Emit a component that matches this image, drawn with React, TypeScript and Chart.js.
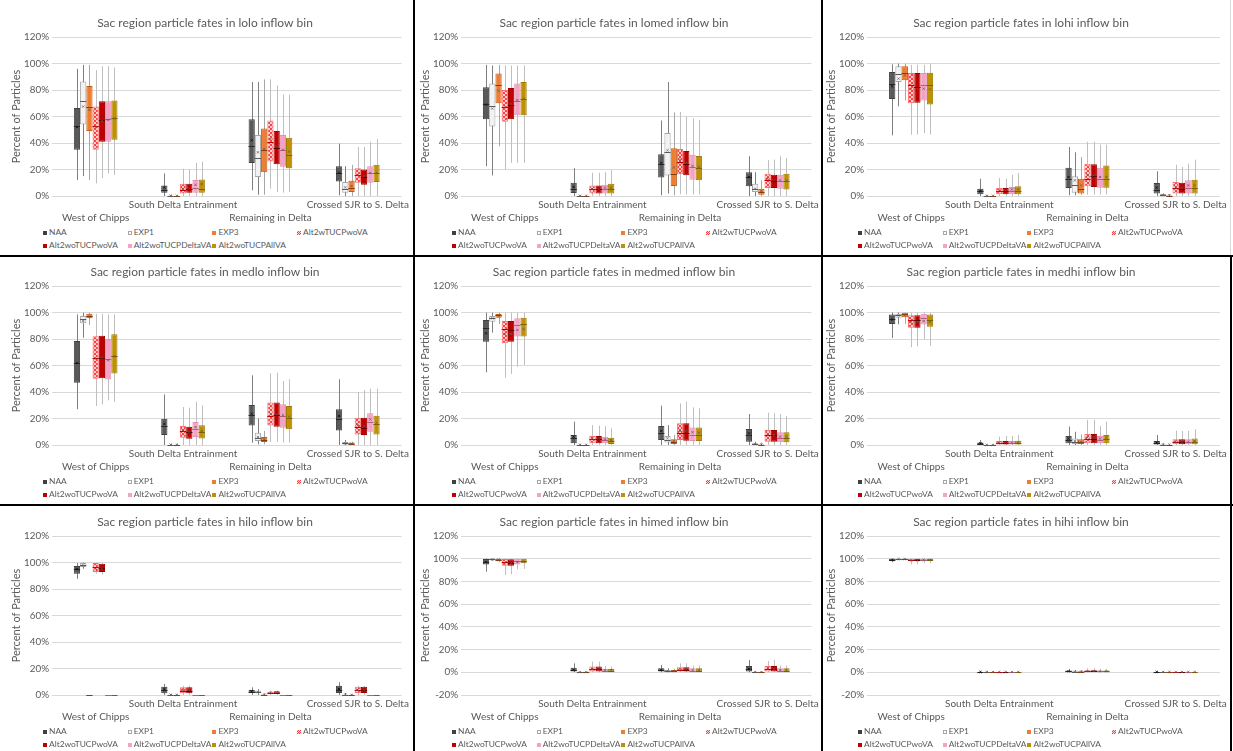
import React, { useEffect, useRef } from 'react';
import { Chart, registerables } from 'chart.js';
Chart.register(...registerables);

const FONT = 'Lato, "Open Sans", "DejaVu Sans", sans-serif';
const TEXT = '#595959';

const SERIES = ['NAA', 'EXP1', 'EXP3', 'Alt2wTUCPwoVA', 'Alt2woTUCPwoVA', 'Alt2woTUCPDeltaVA', 'Alt2woTUCPAllVA'];
const CATEGORIES = [['', 'West of Chipps'], ['South Delta Entrainment'], ['', 'Remaining in Delta'], ['Crossed SJR to S. Delta']];
const Y_TICK_STEP = 20;
const Y_MAX = 120;

// each box: [min, q1, median, q3, max, mean] ; per category -> per series
const LOLO = [
  [[12, 35, 53, 66.5, 96, 52], [15, 54, 72, 86.5, 99, 67.5], [12, 49, 67, 83, 99, 65], [9.5, 35, 52.5, 67.5, 95, 52], [13.5, 41, 57, 71.5, 98, 56.5], [17, 41, 58, 71.5, 98, 57.5], [16, 42.5, 59, 72, 97, 58.5]],
  [[0, 2.5, 4.8, 8, 17, 6.5], [0, 0, 0.2, 0.5, 1, 0.3], [0, 0, 0.2, 0.3, 0.8, 0.2], [0, 1.8, 4.3, 9.3, 20.5, 5.5], [0, 2.5, 5.3, 9.3, 20, 5.5], [0, 2.5, 6, 12, 25, 8.5], [0, 2.5, 5.5, 12.5, 26, 9]],
  [[4.3, 25, 38, 58, 86, 42], [1, 14.3, 29, 46, 86, 33], [1, 18, 35, 51, 88, 35.5], [5.5, 26, 41, 57, 88, 43], [3, 24, 36.5, 49, 83.5, 37.5], [2.5, 22, 35, 46, 76.5, 35], [3, 21, 31, 44, 76.5, 33.5]],
  [[0.5, 11, 17, 22.5, 39.5, 17.5], [0, 2.5, 5, 10.5, 22.5, 6.5], [0, 3, 6, 11.5, 23.5, 7.5], [0, 10, 16, 21, 37, 16], [0, 8.5, 14.5, 20, 37, 15], [0, 10, 17, 22.5, 41, 17.5], [0, 10.5, 17.5, 23.5, 43, 17.5]],
];
const LOMED = [
  [[22.5, 58, 69.5, 82, 99, 69], [15.5, 52.5, 68, 85, 98.5, 66], [37.5, 70, 83.5, 92.5, 99, 79.5], [20, 56, 67.5, 80, 98.5, 67], [25, 58, 68.5, 81.5, 98.5, 69.5], [25, 61, 72, 85, 98.5, 72.5], [25, 61, 73.5, 86, 98.5, 73.5]],
  [[0, 2.3, 5.5, 10, 21, 6.8], [0, 0, 0.2, 0.4, 0.8, 0.2], [0, 0, 0.2, 0.4, 0.8, 0.2], [0, 1.8, 5, 8, 17.5, 5.5], [0, 1.8, 5.3, 8, 17.5, 5], [0, 1.8, 5.5, 8.5, 18, 6.3], [0, 1.8, 5.5, 9.3, 19.5, 6.3]],
  [[0.5, 14, 24.5, 31.5, 57, 25], [1.8, 15.5, 33, 47.5, 86, 34.5], [0.5, 7.5, 16.5, 36, 63, 21.5], [1.3, 16.4, 25.7, 35.5, 63.4, 27.4], [1, 15.6, 24.4, 34, 60, 25], [1, 12.3, 22, 31.2, 58.5, 22.6], [1, 11.8, 21.4, 30.2, 57.5, 22]],
  [[0, 7.3, 14.3, 18, 30, 14.3], [0, 3, 5.5, 9.3, 18, 5.5], [0, 1, 3, 5.5, 11.8, 3.8], [0, 6, 11.8, 16.8, 27, 13], [0, 6, 11, 16, 27.4, 11.8], [0, 5.5, 11, 16, 30, 11.8], [0, 5, 11, 16.8, 28.7, 11.8]],
];
const LOHI = [
  [[45.8, 73.2, 84.8, 93.6, 99.4, 82.8], [67.7, 86, 92.3, 97.9, 99.9, 88.6], [72, 87.3, 92.8, 98, 99.9, 91], [46.3, 70, 83.5, 92.8, 99, 81], [46.3, 70.4, 82.3, 92.8, 99, 81], [47.5, 72, 83.5, 92.8, 99, 81], [46.3, 69, 83.5, 93, 99.9, 80.5]],
  [[0, 1.3, 3.8, 5.5, 13, 3.8], [0, 0, 0.1, 0.3, 0.6, 0.2], [0, 0, 0.1, 0.3, 0.6, 0.2], [0, 1.3, 3.8, 6, 13.6, 4.3], [0, 1.3, 3.8, 6, 13, 4.3], [0, 1.3, 3.8, 6.8, 16, 5], [0, 1.3, 3.8, 7.3, 17.4, 5]],
  [[0.5, 6, 13, 21.4, 37, 14.3], [0.5, 2.5, 8.5, 15, 33, 11.8], [1, 1.8, 5.5, 13, 29.4, 8], [1, 7.3, 13, 24.4, 41, 15.6], [1, 6.8, 14.8, 24, 41, 15.6], [1, 6.3, 13, 21.4, 38.7, 14.3], [1, 6.3, 13, 23, 38.7, 14.3]],
  [[0, 1.8, 4.8, 9.8, 18.6, 6.3], [0, 0, 0.5, 1.5, 2, 0.7], [0, 0, 0.3, 1, 1.5, 0.5], [0, 1.8, 6, 10.6, 23.6, 6.3], [0, 1.8, 5.5, 10, 21.9, 6.3], [0, 1.8, 6, 11.8, 24.4, 8], [0, 1.8, 6, 12.3, 27.4, 8]],
];
const MEDLO = [
  [[27, 47, 62, 78.5, 98.6, 62], [81, 91.8, 95.4, 97.4, 99.9, 93.6], [90.6, 95.6, 97.4, 99, 99.9, 96.9], [29.4, 50, 66, 82, 99, 65], [30.7, 50.3, 66, 82.5, 99, 66], [33.7, 49.5, 65, 80, 98.6, 64], [32.7, 54, 67.5, 83.5, 98.6, 67]],
  [[0, 7.5, 14.3, 19.9, 38.2, 16], [0, 0, 0.2, 0.5, 1, 0.3], [0, 0, 0.2, 0.5, 1, 0.3], [0, 5.5, 10.6, 14.3, 28.7, 11], [0, 4.8, 10, 13.8, 28.2, 10], [0, 6, 11.8, 17.4, 32.7, 13.6], [0, 5, 10, 15, 30, 10.6]],
  [[1.8, 14.8, 23, 30.2, 52.6, 23.6], [0.5, 3, 5.5, 9.3, 20, 6], [0.5, 2.3, 3.5, 6, 10.6, 4.3], [2.3, 14.8, 21.9, 32, 54, 23], [2.3, 13.8, 22.6, 32, 54.6, 23], [1.8, 13, 21.9, 30.7, 48.3, 22.4], [1.8, 11.8, 20.6, 29.4, 49.6, 21.4]],
  [[0, 11, 20, 27, 49.6, 21.9], [0, 0, 1.3, 2.3, 3.8, 1.2], [0, 0, 0.8, 1.8, 2.5, 0.9], [0, 8, 13.6, 20.6, 40, 14.8], [0, 7.5, 13, 20.6, 41.5, 14.3], [0, 10, 17.4, 24, 42.5, 19.4], [0, 8, 15.6, 22, 42.5, 16.9]],
];
const MEDMED = [
  [[54.8, 78, 88, 94.3, 99.9, 84.3], [84.8, 93, 95.6, 97.4, 99.9, 95.6], [91.3, 96, 97.9, 98.9, 99.9, 97.4], [50.8, 76.7, 87.3, 93.6, 99.9, 83.8], [53.6, 78, 86.8, 93.6, 99.9, 83.8], [59, 81.8, 90.6, 95.6, 99.9, 86.8], [60.4, 81.8, 91.3, 96, 99.9, 87.3]],
  [[0, 1.3, 5, 7.5, 17.6, 6.3], [0, 0, 0.2, 0.4, 0.8, 0.2], [0, 0, 0.2, 0.4, 0.8, 0.2], [0, 1.3, 4.3, 6.8, 15, 4.8], [0, 1.3, 4.3, 6.8, 14.6, 4.8], [0, 1.3, 3.8, 6.3, 14.3, 4.3], [0, 0.8, 3.3, 5.5, 12.6, 3.8]],
  [[0, 3.8, 8.8, 14.3, 29.7, 10.6], [0, 1.8, 3.8, 6.8, 15, 5], [0, 0.8, 2.5, 4.3, 7.5, 3], [0, 3.8, 8.8, 16.4, 31.4, 10.6], [0, 3.3, 9.3, 16.4, 32.7, 10.8], [0, 3, 7.5, 13.3, 28.4, 9.6], [0, 3, 7.5, 13.3, 27.7, 9.3]],
  [[0, 2.5, 7.5, 12, 23.4, 8.8], [0, 0, 0.5, 1.3, 2.5, 0.7], [0, 0, 0.3, 0.8, 1.8, 0.4], [0, 2.5, 7.3, 11.3, 24.4, 7.5], [0, 2.5, 7.3, 11.3, 23.9, 7.5], [0, 2, 5.5, 9.6, 23.2, 6.3], [0, 2, 5.5, 9.6, 22, 6.3]],
];
const MEDHI = [
  [[80.8, 91.4, 95.2, 98.5, 100, 94.7], [91, 96, 97.8, 99, 100, 97.8], [91.4, 96.5, 98.5, 99.8, 100, 98], [73.8, 88.4, 94.7, 98, 100, 93], [74.5, 88.4, 94.2, 98, 100, 93], [79.6, 91, 95.5, 99, 100, 93.5], [75, 89.2, 94.7, 98.5, 100, 93]],
  [[0, 0, 0.8, 1.8, 3.8, 1.3], [0, 0, 0.1, 0.2, 0.4, 0.1], [0, 0, 0.1, 0.2, 0.4, 0.1], [0, 0, 1.3, 3, 6.3, 1.8], [0, 0, 1.3, 3, 6.8, 1.8], [0, 0, 1.3, 3, 6.8, 1.8], [0, 0, 1.3, 3.3, 7.6, 2]],
  [[0, 1.3, 3.8, 6.8, 13.9, 4.8], [0, 0.8, 2.5, 5, 10, 3], [0, 0.8, 2.3, 4.3, 8, 2.5], [0, 1.3, 4.8, 8.3, 19, 5.6], [0, 1.3, 4.8, 8.3, 19, 5.6], [0, 1.3, 3.8, 6.8, 14.4, 4.8], [0, 1.3, 4.3, 7.6, 17.7, 5.6]],
  [[0, 0, 1.3, 3, 7.6, 1.8], [0, 0, 0.3, 0.8, 1.2, 0.4], [0, 0, 0.2, 0.5, 0.8, 0.3], [0, 0.5, 2.3, 4.3, 10.9, 2.5], [0, 0.5, 2.3, 4.3, 10.6, 2.5], [0, 0.5, 2.3, 4.3, 10.6, 2.5], [0, 0.5, 2.5, 5, 11.9, 3]],
];
const HILO = [
  [[87.7, 91.5, 95.3, 97.3, 99.6, 95], [95.3, 96.6, 98, 99.6, 100, 97.8], [0, 0, 0, 0, 0, 0], [91.5, 92.8, 96.6, 99.6, 100, 95.3], [91, 92.8, 96.2, 99, 100, 95.3], [0, 0, 0, 0, 0, 0], [0, 0, 0, 0, 0, 0]],
  [[0, 1.3, 3.8, 6.3, 8.3, 4.5], [0, 0, 0.2, 0.5, 0.8, 0.3], [0, 0, 0, 0.2, 0.4, 0.1], [0, 1.3, 3.3, 5.8, 7, 3.8], [0, 1.3, 3.3, 5.8, 7, 3.8], [0, 0, 0, 0, 0, 0], [0, 0, 0, 0, 0, 0]],
  [[0, 1.5, 2.5, 3.8, 5.8, 2.8], [0, 1.3, 2.3, 3.3, 4.5, 2.3], [0, 0, 0.3, 0.8, 1.3, 0.4], [0, 1, 1.8, 2.5, 3.3, 1.8], [0, 1, 1.8, 2.8, 3.3, 1.8], [0, 0, 0, 0, 0, 0], [0, 0, 0, 0, 0, 0]],
  [[0, 1.5, 3.8, 7, 9.6, 4.5], [0, 0, 0.3, 0.8, 1.5, 0.4], [0, 0, 0.2, 0.4, 0.6, 0.2], [0, 1.5, 3.8, 6.3, 7, 4], [0, 1.5, 3.8, 6.3, 7, 4], [0, 0, 0, 0, 0, 0], [0, 0, 0, 0, 0, 0]],
];
const HIMED = [
  [[88.6, 95, 97.4, 99.8, 100, 97], [98.3, 98.6, 99.5, 100, 100, 99.3], [97, 98.5, 99.3, 100, 100, 99], [85.7, 93.9, 96.9, 99.8, 100, 96], [86.3, 93.9, 96.6, 99.5, 100, 96], [90.7, 95, 98.3, 100, 100, 97], [91, 96, 98.3, 100, 100, 97.4]],
  [[0, 0.6, 2, 4.1, 7.9, 2.2], [0, 0, 0.1, 0.3, 0.5, 0.1], [0, 0, 0.1, 0.3, 0.5, 0.1], [0, 0.6, 2.6, 5, 9.4, 2.8], [0, 0.6, 2.6, 5, 9.4, 2.8], [0, 0.6, 1.5, 3, 5.6, 1.8], [0, 0.6, 1.5, 3, 5, 1.8]],
  [[0, 0.6, 2, 3.5, 6.5, 2.1], [0, 0.3, 1, 2, 3.5, 1.1], [0, 0.3, 1, 2, 3, 1.1], [0, 0.6, 2, 4.4, 7.9, 2.6], [0, 0.6, 2, 4.4, 7.9, 2.6], [0, 0.6, 1.5, 3.5, 5.9, 2], [0, 0.6, 1.5, 3.5, 5.9, 2]],
  [[0, 0.6, 2.6, 5.6, 10.9, 3], [0, 0, 0.2, 0.5, 0.8, 0.2], [0, 0, 0.2, 0.5, 0.8, 0.2], [0, 0.6, 2.6, 5.6, 10, 3], [0, 0.6, 2.6, 5.6, 10.9, 3], [0, 0.6, 1.5, 3.5, 5.9, 2], [0, 0.6, 1.5, 3.5, 5.9, 2]],
];
const HIHI = [
  [[97, 98, 99, 100, 100, 99], [99, 99.5, 99.8, 100, 100, 99.7], [99, 99.5, 99.8, 100, 100, 99.7], [95, 98, 99, 100, 100, 98.6], [95, 98, 99, 100, 100, 98.6], [96, 98.5, 99.3, 100, 100, 99], [96, 98.5, 99.3, 100, 100, 99]],
  [[0, 0, 0.2, 0.5, 1, 0.3], [0, 0, 0.2, 0.5, 1, 0.3], [0, 0, 0.2, 0.5, 1, 0.3], [0, 0, 0.2, 0.5, 1, 0.3], [0, 0, 0.2, 0.5, 1, 0.3], [0, 0, 0.2, 0.5, 1, 0.3], [0, 0, 0.2, 0.5, 1, 0.3]],
  [[0, 0.3, 0.8, 1.5, 3, 0.9], [0, 0.2, 0.5, 1, 2, 0.6], [0, 0.2, 0.5, 1, 2, 0.6], [0, 0.3, 1, 1.8, 3.5, 1.1], [0, 0.3, 1, 1.8, 3.5, 1.1], [0, 0.3, 0.8, 1.5, 3, 0.9], [0, 0.3, 0.8, 1.5, 3, 0.9]],
  [[0, 0, 0.2, 0.5, 1, 0.3], [0, 0, 0.2, 0.5, 1, 0.3], [0, 0, 0.2, 0.5, 1, 0.3], [0, 0, 0.2, 0.5, 1, 0.3], [0, 0, 0.2, 0.5, 1, 0.3], [0, 0, 0.2, 0.5, 1, 0.3], [0, 0, 0.2, 0.5, 1, 0.3]],
];

const PANEL_TITLES = ['lolo', 'lomed', 'lohi', 'medlo', 'medmed', 'medhi', 'hilo', 'himed', 'hihi'];
const PANEL_STATS = [LOLO, LOMED, LOHI, MEDLO, MEDMED, MEDHI, HILO, HIMED, HIHI];
const PANEL_YMIN = [0, 0, 0, 0, 0, 0, 0, -20, -20];

// geometry
const COL_PLOT_LEFT = [52, 461, 867];
const COL_CANVAS_RIGHT = [411, 821, 1229];
const COL_PLOT_RIGHT = [410, 819, 1227];
const ROW_TOP = [0, 249, 499];
const AXIS_W = 52;
const CANVAS_H = 224;

const STYLES = [
  { fill: '#595959', border: '#404040', whisker: '#7f7f7f', median: '#262626' },
  { fill: '#f2f2f2', border: '#a6a6a6', whisker: '#7f7f7f', median: '#595959' },
  { fill: '#ed7d31', border: '#c55a11', whisker: '#a6a6a6', median: '#843c0c' },
  { fill: 'checker', border: '#ff6b6b', whisker: '#bfbfbf', median: '#c00000' },
  { fill: '#c00000', border: '#a00000', whisker: '#bfbfbf', median: '#600000' },
  { fill: '#f4a3c4', border: '#e58fb1', whisker: '#bfbfbf', median: '#b0607f' },
  { fill: '#bf9000', border: '#a27a00', whisker: '#bfbfbf', median: '#7f6000' },
];

const LEGEND_MARKS: React.CSSProperties[] = [
  { background: '#404040' },
  { background: '#fff', border: '1px solid #a6a6a6' },
  { background: '#ed7d31' },
  { background: 'repeating-conic-gradient(#ff4040 0 25%, #ffd0d0 0 50%) 0 0 / 2px 2px' },
  { background: '#c00000' },
  { background: '#f4a3c4' },
  { background: '#bf9000' },
];

function checkerPattern(ctx: CanvasRenderingContext2D) {
  const c = document.createElement('canvas');
  c.width = 4; c.height = 4;
  const g = c.getContext('2d')!;
  g.fillStyle = '#ff4040'; g.fillRect(0, 0, 4, 4);
  g.fillStyle = '#ffcccc'; g.fillRect(0, 0, 2, 2); g.fillRect(2, 2, 2, 2);
  return ctx.createPattern(c, 'repeat');
}

const boxPlugin = {
  id: 'boxWhisker',
  beforeDatasetsDraw(chart: any) {
    const { ctx } = chart; const ys = chart.scales.y;
    ctx.save();
    ctx.lineWidth = 1;
    chart.data.datasets.forEach((ds: any, i: number) => {
      const meta = chart.getDatasetMeta(i);
      ctx.strokeStyle = STYLES[i].whisker;
      meta.data.forEach((bar: any, j: number) => {
        const st = ds.stats[j];
        if (st[4] <= st[0]) return;
        const x = Math.round(bar.x) + 0.5;
        ctx.beginPath();
        ctx.moveTo(x, ys.getPixelForValue(st[0]));
        ctx.lineTo(x, ys.getPixelForValue(st[4]));
        ctx.stroke();
      });
    });
    ctx.restore();
  },
  afterDatasetsDraw(chart: any) {
    const { ctx } = chart; const ys = chart.scales.y;
    ctx.save();
    ctx.lineWidth = 1;
    chart.data.datasets.forEach((ds: any, i: number) => {
      const meta = chart.getDatasetMeta(i);
      meta.data.forEach((bar: any, j: number) => {
        const st = ds.stats[j];
        const half = bar.width / 2;
        const ym = Math.round(ys.getPixelForValue(st[2])) + 0.5;
        ctx.strokeStyle = STYLES[i].median;
        ctx.beginPath();
        ctx.moveTo(bar.x - half, ym);
        ctx.lineTo(bar.x + half, ym);
        ctx.stroke();
        if (st[4] > st[0]) {
          const yx = ys.getPixelForValue(st[5]);
          const s = 1.1;
          ctx.strokeStyle = i === 0 ? 'rgba(20,20,20,0.9)' : 'rgba(90,90,90,0.7)';
          ctx.beginPath();
          ctx.moveTo(bar.x - s, yx - s); ctx.lineTo(bar.x + s, yx + s);
          ctx.moveTo(bar.x - s, yx + s); ctx.lineTo(bar.x + s, yx - s);
          ctx.stroke();
        }
      });
    });
    ctx.restore();
  },
};

function Legend({ x, y }: { x: number; y: number }) {
  return (
    <div style={{ position: 'absolute', left: x, top: y, width: 345, height: 26, fontFamily: FONT, fontSize: 8.4, color: TEXT }}>
      {SERIES.map((name, i) => {
        const r = i < 4 ? 0 : 1;
        const c = i < 4 ? i : i - 4;
        return (
          <div key={name} style={{ position: 'absolute', left: c * 84.7, top: r * 13, height: 13, lineHeight: '13px', whiteSpace: 'nowrap', display: 'flex', alignItems: 'center' }}>
            <span style={{ display: 'inline-block', width: 4, height: 4, boxSizing: 'border-box', marginRight: 2, ...LEGEND_MARKS[i] }} />
            <span>{name}</span>
          </div>
        );
      })}
    </div>
  );
}

function Panel({ idx }: { idx: number }) {
  const ref = useRef<HTMLCanvasElement>(null);
  const col = idx % 3;
  const row = Math.floor(idx / 3);
  const left = COL_PLOT_LEFT[col] - AXIS_W;
  const width = COL_CANVAS_RIGHT[col] - left;
  const top = ROW_TOP[row];
  const padRight = COL_CANVAS_RIGHT[col] - COL_PLOT_RIGHT[col];

  useEffect(() => {
    const canvas = ref.current!;
    const ctx = canvas.getContext('2d')!;
    const stats = PANEL_STATS[idx];
    const datasets = SERIES.map((name, s) => ({
      label: name,
      data: stats.map((cat) => [cat[s][1], cat[s][3]]),
      stats: stats.map((cat) => cat[s]),
      backgroundColor: STYLES[s].fill === 'checker' ? checkerPattern(ctx) : STYLES[s].fill,
      borderColor: STYLES[s].border,
      borderWidth: 1,
      borderSkipped: false,
      barPercentage: 1,
      categoryPercentage: 0.5,
    }));
    const chart = new Chart(canvas, {
      type: 'bar',
      data: { labels: CATEGORIES as any, datasets: datasets as any },
      options: {
        responsive: false,
        animation: false,
        layout: { padding: { left: 0, right: padRight, top: 0, bottom: 0 }, autoPadding: false } as any,
        plugins: {
          legend: { display: false },
          tooltip: { enabled: false },
          title: {
            display: true,
            text: `Sac region particle fates in ${PANEL_TITLES[idx]} inflow bin`,
            color: TEXT,
            font: { family: FONT, size: 12, weight: 'normal', lineHeight: 1.2 },
            padding: { top: 15.8, bottom: 6.8 },
          },
        },
        scales: {
          x: {
            grid: { display: false, drawTicks: false },
            border: { display: false },
            ticks: { autoSkip: false, maxRotation: 0, minRotation: 0, padding: 2, color: TEXT, font: { family: FONT, size: 10, lineHeight: 1.3 } },
            afterFit: (s: any) => { s.height = CANVAS_H - 37 - 159; },
          },
          y: {
            min: PANEL_YMIN[idx],
            max: Y_MAX,
            ticks: { stepSize: Y_TICK_STEP, padding: 3, color: TEXT, font: { family: FONT, size: 9.8 }, callback: (v: any) => `${v}%` },
            grid: { color: '#d9d9d9', drawTicks: false, lineWidth: 1 },
            border: { display: false },
            title: { display: true, text: 'Percent of Particles', color: TEXT, font: { family: FONT, size: 11 }, padding: { top: 10, bottom: 0 } },
            afterFit: (s: any) => { s.width = AXIS_W; },
          },
        },
      } as any,
      plugins: [boxPlugin],
    });
    return () => chart.destroy();
  }, []);

  return (
    <>
      <canvas ref={ref} width={width} height={CANVAS_H} style={{ position: 'absolute', left, top, width, height: CANVAS_H }} />
      <Legend x={COL_PLOT_LEFT[col] - 9} y={top + 226} />
    </>
  );
}

export default function App() {
  const line = (l: number, t: number, w: number, h: number, c = '#000') => (
    <div style={{ position: 'absolute', left: l, top: t, width: w, height: h, background: c, zIndex: 5 }} />
  );
  return (
    <div style={{ position: 'fixed', left: 0, top: 0, width: 1233, height: 751, background: '#fff', overflow: 'hidden' }}>
      {PANEL_TITLES.map((_, i) => <Panel key={i} idx={i} />)}
      {line(413, 0, 2, 751)}
      {line(821, 0, 2, 751)}
      {line(0, 255, 1233, 2)}
      {line(0, 504, 1233, 2)}
      {line(1230, 255, 2, 496)}
      {line(1230, 0, 1, 255, '#d9d9d9')}
    </div>
  );
}
